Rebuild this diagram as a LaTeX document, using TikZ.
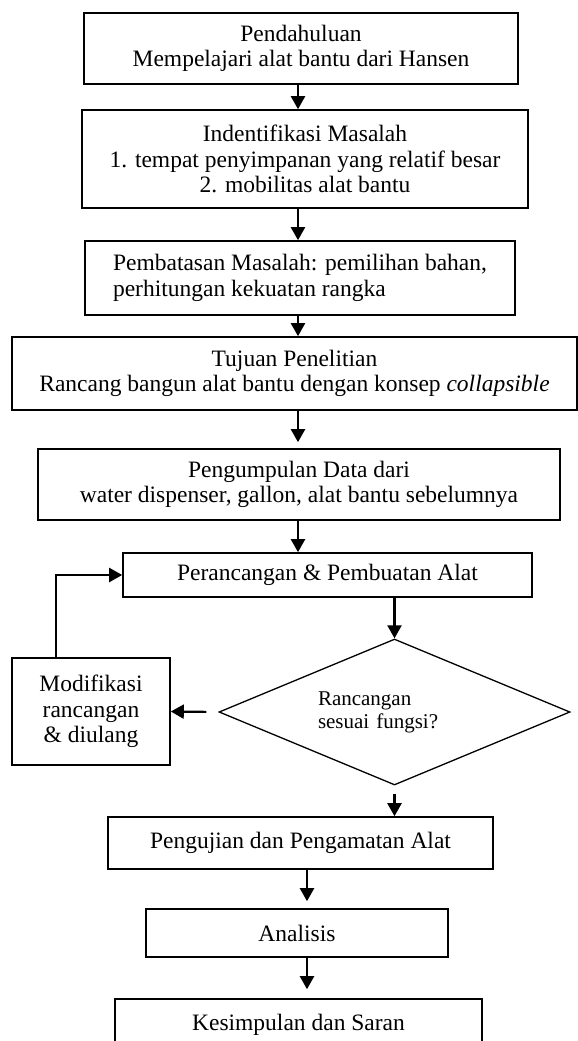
\documentclass[tikz,border=0pt]{standalone}
\usepackage{fontspec}
\setmainfont{Liberation Serif}
\usepackage{tikz}
\usetikzlibrary{positioning,shapes,arrows.meta,shapes.geometric}

\begin{document}
\begin{tikzpicture}[x=1pt,y=-1pt,
    kotak/.style={draw, line width=1.6pt, inner sep=2pt, align=center, font=\fontsize{23.5}{25.5}\selectfont},
    belah/.style={draw, diamond, aspect=2.4, line width=1.3pt, inner sep=0pt, align=left, font=\fontsize{21}{23}\selectfont},
    panah/.style={line width=2.2pt, -{Triangle[width=14pt,length=13pt]}}]
    \useasboundingbox (0,0) rectangle (578,1041);
    \clip (0,0) rectangle (578,1041);
    \coordinate (kol) at (298,0);
    \coordinate (kol2) at (307,0);
    \node[kotak, minimum width=434, minimum height=71] (pend) at (301,48.5) {Pendahuluan\\Mempelajari alat bantu dari Hansen};
    \node[kotak, minimum width=446, minimum height=98] (ident) at (305,159) {Indentifikasi Masalah\\1. tempat penyimpanan yang relatif besar\\2. mobilitas alat bantu};
    \node[kotak, align=left, minimum width=430, minimum height=74] (batas) at (300,278) {Pembatasan Masalah: pemilihan bahan,\\perhitungan kekuatan rangka};
    \node[kotak, minimum width=565, minimum height=73] (tujuan) at (294.5,373.5) {Tujuan Penelitian\\Rancang bangun alat bantu dengan konsep \textit{collapsible}};
    \node[kotak, minimum width=522, minimum height=71] (data) at (299,484.5) {Pengumpulan Data dari\\water dispenser, gallon, alat bantu sebelumnya};
    \node[kotak, minimum width=409, minimum height=44] (rancang) at (327.5,575) {Perancangan \& Pembuatan Alat};
    \node[belah, text width=153, minimum width=351, minimum height=146] (cek) at (394.5,712) {Rancangan\\sesuai fungsi?};
    \node[kotak, minimum width=158, minimum height=107] (modif) at (91,711.5) {Modifikasi\\rancangan\\\& diulang};
    \node[kotak, minimum width=385, minimum height=52] (uji) at (300.5,843) {Pengujian dan Pengamatan Alat};
    \node[kotak, minimum width=302, minimum height=48] (analisis) at (297,933) {Analisis};
    \node[kotak, minimum width=367, minimum height=52] (simpul) at (298.5,1025) {Kesimpulan dan Saran};
    \draw[panah] (pend.south -| kol) -- (ident.north -| kol);
    \draw[panah] (ident.south -| kol) -- (batas.north -| kol);
    \draw[panah] (batas.south -| kol) -- (tujuan.north -| kol);
    \draw[panah, shorten >=6pt] (tujuan.south -| kol) -- (data.north -| kol);
    \draw[panah] (data.south -| kol) -- (rancang.north -| kol);
    \draw[panah] (rancang.south -| cek.north) -- (cek.north);
    \draw[panah, shorten <=12pt] (cek.west) -- (modif.east);
    \draw[panah] ([xshift=-35pt]modif.north) |- (rancang.west);
    \draw[panah, shorten <=8pt] (cek.south) -- (uji.north -| cek.south);
    \draw[panah, shorten >=7pt] (uji.south -| kol2) -- (analisis.north -| kol2);
    \draw[panah, shorten >=9pt] (analisis.south -| kol2) -- (simpul.north -| kol2);
\end{tikzpicture}
\end{document}
